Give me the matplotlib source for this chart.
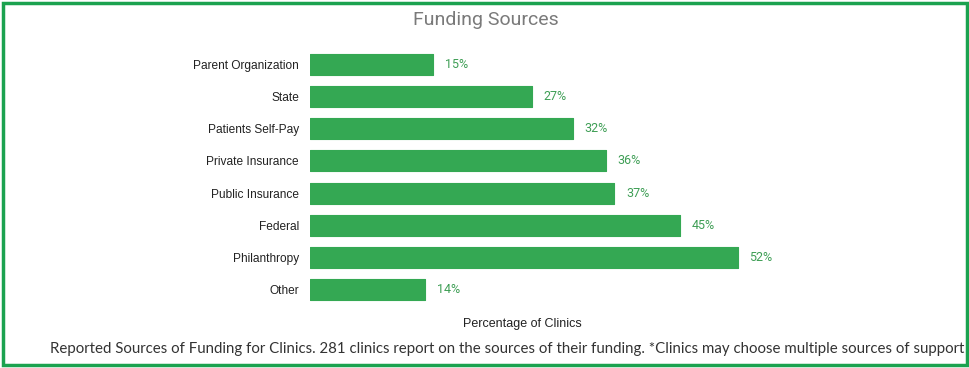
import matplotlib.pyplot as plt
from matplotlib.patches import Rectangle

categories = ['Parent Organization', 'State', 'Patients Self-Pay', 'Private Insurance',
              'Public Insurance', 'Federal', 'Philanthropy', 'Other']
values = [15, 27, 32, 36, 37, 45, 52, 14]

bar_color = '#34A853'
border_color = '#1BA24F'

plt.rcParams['font.family'] = ['Liberation Sans', 'DejaVu Sans']

fig = plt.figure(figsize=(9.7, 3.68), dpi=100)
# plot area: bars start at x=310px, about 8.23 px per percent
ax = fig.add_axes([310/970, 1 - 306/368, 576/970, (306 - 48)/368])

y = list(range(len(categories)))
ax.barh(y, values, height=0.65, color=bar_color, edgecolor=bar_color, linewidth=0.8,
        joinstyle='round')
for yi, v in zip(y, values):
    ax.text(v + 1.4, yi, f'{v}%', va='center', ha='left', fontsize=9, color='#3E9E55',
            family=['Roboto', 'DejaVu Sans'])

ax.set_xlim(0, 70)
ax.set_ylim(len(categories) - 0.5, -0.5)
ax.set_yticks(y)
ax.set_yticklabels(categories, fontsize=8.6, color='#222222')
ax.tick_params(axis='y', length=0, pad=8)
ax.set_xticks([])
for s in ax.spines.values():
    s.set_visible(False)

fig.text(486/970, 1 - 20/368, 'Funding Sources', ha='center', va='center',
         fontsize=14, color='#7a7a7a', family=['Roboto', 'DejaVu Sans'])
fig.text(522/970, 1 - 324/368, 'Percentage of Clinics', ha='center', va='center',
         fontsize=9, color='#222222')
fig.text(507/970, 1 - 349/368,
         'Reported Sources of Funding for Clinics. 281 clinics report on the sources of their funding. '
         '*Clinics may choose multiple sources of support',
         ha='center', va='center', fontsize=10.8, color='#333333', family=['Lato', 'DejaVu Sans'])

# green frame round the whole picture
fig.patches.append(Rectangle((3/970, 3/368), 964/970, 362/368, transform=fig.transFigure,
                             fill=False, edgecolor=border_color, linewidth=2.5))

fig.savefig('out.png', dpi=100)
